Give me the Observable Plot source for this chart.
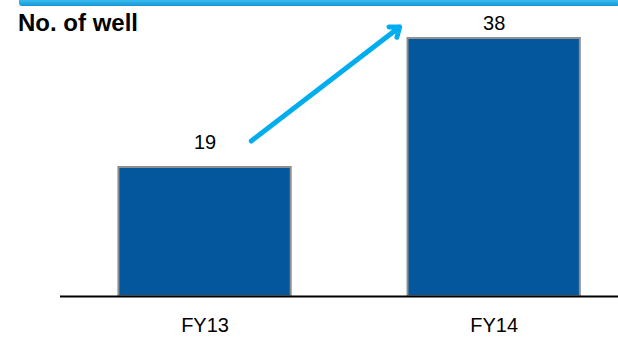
<!DOCTYPE html>
<html>
<head>
<meta charset="utf-8">
<script src="https://cdn.jsdelivr.net/npm/d3@7"></script>
<script src="https://cdn.jsdelivr.net/npm/@observablehq/plot@0.6"></script>
<style>
  html, body { margin: 0; padding: 0; background: #fff; }
  #wrap { position: relative; width: 618px; height: 338px; overflow: hidden; font-family: "Liberation Sans", Arial, sans-serif; }
  #band { position: absolute; left: 19px; top: 0; width: 599px; height: 6px; border-bottom-left-radius: 3px;
          background: linear-gradient(to bottom, #3cbcf0, #1597d8); }
  #title { position: absolute; left: 18px; top: 8px; font-size: 24px; font-weight: bold; color: #000; line-height: 30px; }
  svg { position: absolute; left: 0; top: 0; }
</style>
</head>
<body>
<div id="wrap">
  <div id="chart"></div>
  <div id="band"></div>
  <div id="title">No. of well</div>
</div>
<script>
const categories = ["FY13", "FY14"];
const wells = [19, 38];
const arrowFrom = {index: 0.16, value: 22.9};
const arrowTo = {index: 0.673, value: 39.7};

const data = categories.map((c, i) => ({cat: c, i, value: wells[i]}));
const half = 0.298;

const chart = Plot.plot({
  width: 618,
  height: 338,
  marginLeft: 60,
  marginRight: 0,
  marginTop: 0,
  marginBottom: 42,
  style: {fontFamily: "Liberation Sans, Arial, sans-serif", background: "transparent"},
  x: {domain: [-0.5, 1.43], axis: null, label: null},
  y: {domain: [0, 43.6], axis: null, label: null},
  marks: [
    Plot.rectY(data, {x1: d => d.i - half, x2: d => d.i + half, y1: 0, y2: "value", fill: "#04579c", stroke: "#8f8f8f", strokeWidth: 2}),
    Plot.ruleY([0], {stroke: "#000", strokeWidth: 2}),
    Plot.axisX({ticks: [0, 1], tickFormat: i => categories[i], tickSize: 0, tickPadding: 21, fontSize: 20, fill: "#000", label: null}),
    Plot.text(data.filter(d => d.cat === "FY13"), {x: "i", y: "value", text: d => String(d.value), lineAnchor: "bottom", dy: -19, fontSize: 20, fill: "#000"}),
    Plot.text(data.filter(d => d.cat === "FY14"), {x: "i", y: "value", text: d => String(d.value), lineAnchor: "bottom", dy: -9, fontSize: 20, fill: "#000"}),
    Plot.arrow([{a: arrowFrom, b: arrowTo}], {x1: d => d.a.index, y1: d => d.a.value, x2: d => d.b.index, y2: d => d.b.value, stroke: "#00aeef", strokeWidth: 5, headLength: 3.2, headAngle: 75})
  ]
});
document.getElementById("chart").appendChild(chart);
</script>
</body>
</html>
